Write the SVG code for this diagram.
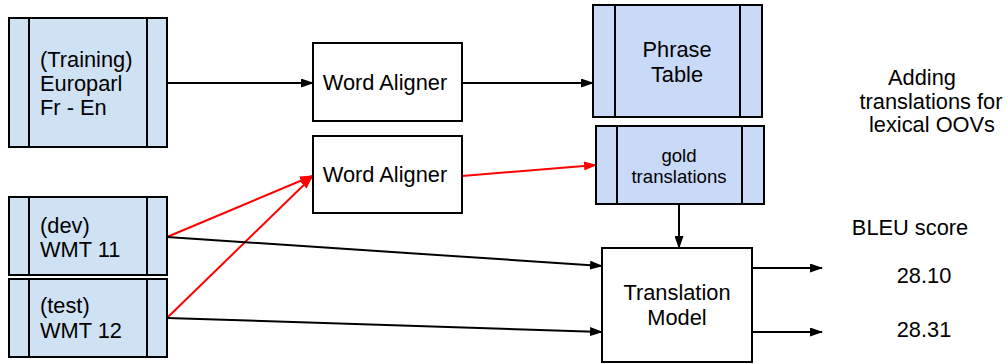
<svg xmlns="http://www.w3.org/2000/svg" width="1008" height="364" viewBox="0 0 1008 364">
  <style>
    .box { stroke: #000; stroke-width: 2; }
    .data { fill: #cfe2f3; }
    .table { fill: #c9daf8; }
    .plain { fill: #fff; }
    .edge { fill: none; stroke: #000; stroke-width: 2; }
    .red { stroke: #ff0000; }
    text { font-family: "Liberation Sans", Arial, sans-serif; font-size: 21.8px; fill: #000; }
    .mid { text-anchor: middle; }
    .small { font-size: 18.6px; }
  </style>
  <defs>
    <marker id="ah" markerUnits="userSpaceOnUse" markerWidth="13" markerHeight="9" refX="12" refY="4.5" orient="auto">
      <path d="M0,0 L13,4.5 L0,9 z" fill="#000"/>
    </marker>
    <marker id="ahr" markerUnits="userSpaceOnUse" markerWidth="13" markerHeight="9" refX="12" refY="4.5" orient="auto">
      <path d="M0,0 L13,4.5 L0,9 z" fill="#ff0000"/>
    </marker>
  </defs>

  <g id="connectors">
    <line class="edge" x1="167" y1="83" x2="313" y2="83" marker-end="url(#ah)"/>
    <line class="edge" x1="462" y1="83" x2="593" y2="83" marker-end="url(#ah)"/>
    <line class="edge red" x1="462" y1="176" x2="596" y2="165" marker-end="url(#ahr)"/>
    <line class="edge red" x1="167" y1="237" x2="312" y2="176" marker-end="url(#ahr)"/>
    <line class="edge red" x1="167" y1="318" x2="312" y2="177" marker-end="url(#ahr)"/>
    <line class="edge" x1="167" y1="237" x2="602" y2="266" marker-end="url(#ah)"/>
    <line class="edge" x1="167" y1="318" x2="602" y2="332" marker-end="url(#ah)"/>
    <line class="edge" x1="679" y1="204" x2="679" y2="248" marker-end="url(#ah)"/>
    <line class="edge" x1="752" y1="268" x2="822" y2="268" marker-end="url(#ah)"/>
    <line class="edge" x1="752" y1="332" x2="822" y2="332" marker-end="url(#ah)"/>
  </g>

  <g id="training">
    <rect class="box data" x="9" y="18" width="158" height="129"/>
    <line class="box" x1="29" y1="18" x2="29" y2="147"/>
    <line class="box" x1="147" y1="18" x2="147" y2="147"/>
    <text x="40" y="67">(Training)</text>
    <text x="40" y="91">Europarl</text>
    <text x="40" y="115">Fr - En</text>
  </g>

  <g id="dev">
    <rect class="box data" x="9" y="197" width="158" height="78"/>
    <line class="box" x1="29" y1="197" x2="29" y2="275"/>
    <line class="box" x1="147" y1="197" x2="147" y2="275"/>
    <text x="40" y="233">(dev)</text>
    <text x="40" y="257">WMT 11</text>
  </g>

  <g id="test">
    <rect class="box data" x="9" y="279" width="158" height="78"/>
    <line class="box" x1="29" y1="279" x2="29" y2="357"/>
    <line class="box" x1="147" y1="279" x2="147" y2="357"/>
    <text x="40" y="313">(test)</text>
    <text x="40" y="338">WMT 12</text>
  </g>

  <g id="aligner-train">
    <rect class="box plain" x="313" y="43" width="149" height="78"/>
    <text class="mid" x="385" y="90">Word Aligner</text>
  </g>

  <g id="aligner-dev">
    <rect class="box plain" x="313" y="136" width="149" height="77"/>
    <text class="mid" x="385" y="182">Word Aligner</text>
  </g>

  <g id="phrase-table">
    <rect class="box table" x="593" y="5" width="169" height="112"/>
    <line class="box" x1="615" y1="5" x2="615" y2="117"/>
    <line class="box" x1="740" y1="5" x2="740" y2="117"/>
    <text class="mid" x="677" y="57">Phrase</text>
    <text class="mid" x="677" y="82">Table</text>
  </g>

  <g id="gold">
    <rect class="box table" x="596" y="126" width="168" height="78"/>
    <line class="box" x1="617" y1="126" x2="617" y2="204"/>
    <line class="box" x1="742" y1="126" x2="742" y2="204"/>
    <text class="mid small" x="679" y="162">gold</text>
    <text class="mid small" x="679" y="183">translations</text>
  </g>

  <g id="translation-model">
    <rect class="box plain" x="602" y="248" width="150" height="114"/>
    <text class="mid" x="677" y="300">Translation</text>
    <text class="mid" x="677" y="325">Model</text>
  </g>

  <g id="notes">
    <text class="mid" x="922" y="85">Adding</text>
    <text class="mid" x="931" y="109">translations for</text>
    <text class="mid" x="932" y="132">lexical OOVs</text>
    <text class="mid" x="910" y="235">BLEU score</text>
    <text class="mid" x="924" y="283">28.10</text>
    <text class="mid" x="924" y="337">28.31</text>
  </g>
</svg>
